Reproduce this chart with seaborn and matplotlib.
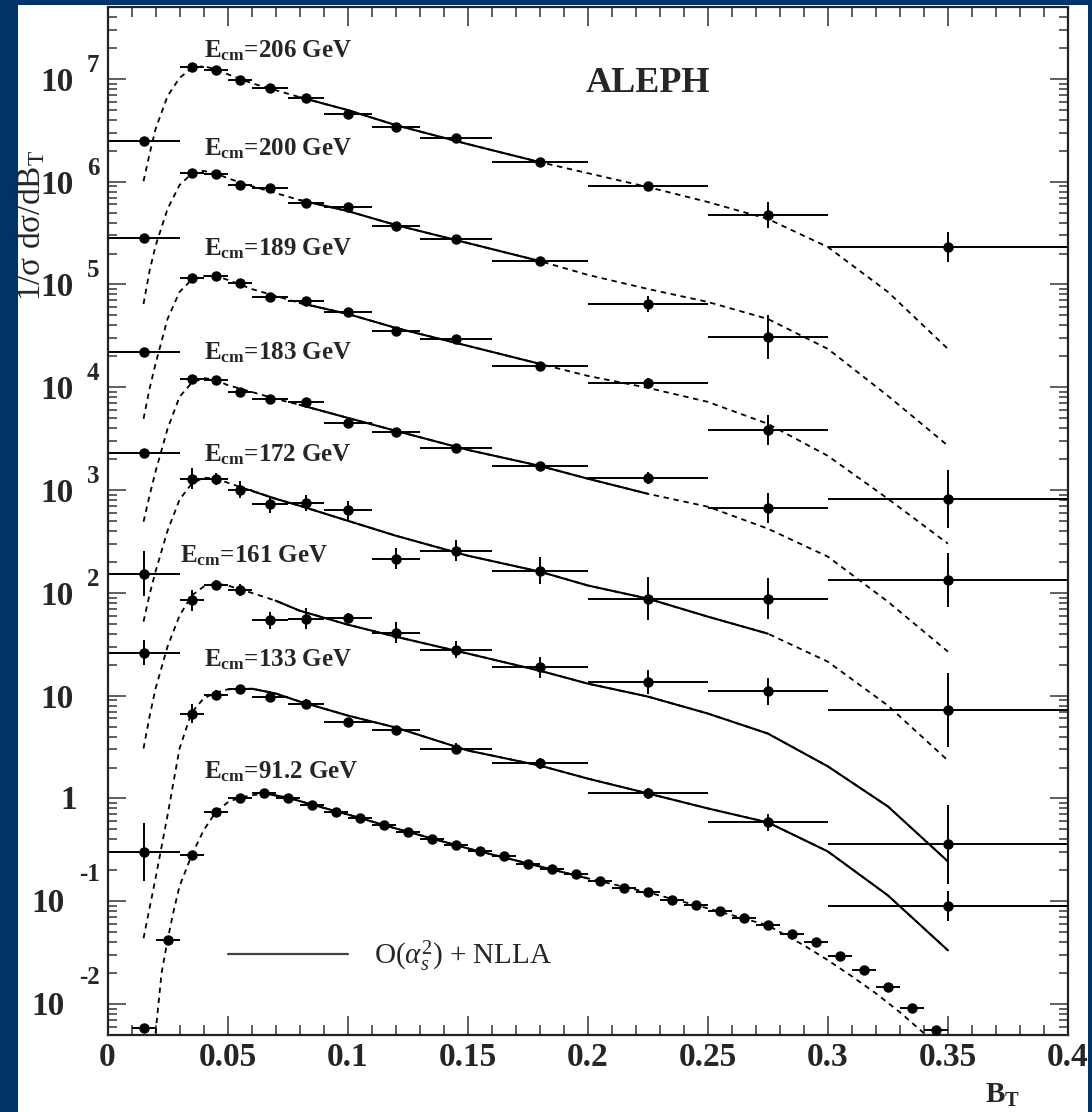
import numpy as np
import matplotlib
matplotlib.use('Agg')
import matplotlib.pyplot as plt
import seaborn as sns
from matplotlib.lines import Line2D
from matplotlib.patches import Rectangle
from matplotlib.ticker import MultipleLocator, LogLocator, NullFormatter

sns.set_theme(style='ticks')
plt.rcParams['font.family'] = ['Liberation Serif', 'DejaVu Serif']
plt.rcParams['mathtext.fontset'] = 'custom'
plt.rcParams['mathtext.rm'] = 'Liberation Serif'
plt.rcParams['mathtext.it'] = 'Liberation Serif:italic'
plt.rcParams['mathtext.bf'] = 'Liberation Serif:bold'

# ---- data ----
# LEP2 binning (bin centres and half widths)
LEP2_X = [0.015, 0.035, 0.045, 0.055, 0.0675, 0.0825, 0.1, 0.12, 0.145, 0.18, 0.225, 0.275, 0.35]
LEP2_XERR = [0.015, 0.005, 0.005, 0.005, 0.0075, 0.0075, 0.01, 0.01, 0.015, 0.02, 0.025, 0.025, 0.05]

D206 = [2.50e6, 1.31e7, 1.22e7, 9.71e6, 8.07e6, 6.45e6, 4.54e6, 3.42e6, 2.64e6, 1.54e6, 9.0e5, 4.73e5, 2.30e5]
D200 = [2.81e5, 1.21e6, 1.19e6, 9.33e5, 8.61e5, 6.19e5, 5.62e5, 3.73e5, 2.77e5, 1.68e5, 6.46e4, 3.07e4, np.nan]
D189 = [2.22e4, 1.15e5, 1.20e5, 1.03e5, 7.61e4, 6.96e4, 5.37e4, 3.56e4, 2.95e4, 1.61e4, 1.10e4, 3.80e3, 8.23e2]
D183 = [2.29e3, 1.21e4, 1.18e4, 8.96e3, 7.71e3, 7.16e3, 4.48e3, 3.66e3, 2.58e3, 1.72e3, 1.31e3, 6.68e2, 1.34e2]
D172 = [1.54e2, 1.29e3, 1.29e3, 1.01e3, 7.24e2, 7.48e2, 6.34e2, 2.15e2, 2.57e2, 1.64e2, 87.9, 87.9, 7.33]
D161 = [26.1, 84.6, 120, 106, 54.0, 56.1, 57.0, 41.0, 28.1, 18.8, 13.6, 11.0, 0.357]
D133 = [0.303, 6.70, 10.1, 11.5, 9.74, 8.38, 5.56, 4.61, 3.06, 2.19, 1.12, 0.585, 0.0892]

# vertical errors in decades (log10 half-length)
E206 = [0.03] * 11 + [0.126, 0.146]
E200 = [0.03] * 10 + [0.078, 0.214, 0.0]
E189 = [0.03] * 10 + [0.05, 0.146, 0.28]
E183 = [0.03] * 10 + [0.06, 0.146, 0.26]
E172 = [0.22, 0.1, 0.06, 0.08, 0.08, 0.08, 0.09, 0.1, 0.1, 0.13, 0.21, 0.2, 0.36]
E161 = [0.12, 0.1, 0.05, 0.06, 0.08, 0.1, 0.05, 0.1, 0.08, 0.1, 0.12, 0.13, 0.38]
E133 = [0.28, 0.09, 0.05, 0.04, 0.04, 0.04, 0.04, 0.04, 0.05, 0.05, 0.05, 0.08, 0.146]

# LEP1 (91.2 GeV), 0.01 wide bins
Z_X = [0.015, 0.025, 0.035, 0.045, 0.055, 0.065, 0.075, 0.085, 0.095, 0.105, 0.115, 0.125,
       0.135, 0.145, 0.155, 0.165, 0.175, 0.185, 0.195, 0.205, 0.215, 0.225, 0.235, 0.245,
       0.255, 0.265, 0.275, 0.285, 0.295, 0.305, 0.315, 0.325, 0.335, 0.345]
Z_Y = [0.00582, 0.0417, 0.279, 0.731, 1.02, 1.12, 1.02, 0.855, 0.731, 0.639, 0.547, 0.467,
       0.400, 0.349, 0.305, 0.273, 0.228, 0.204, 0.183, 0.156, 0.136, 0.122, 0.104, 0.0912,
       0.0797, 0.0682, 0.0583, 0.0477, 0.0399, 0.0292, 0.0213, 0.0146, 0.00910, 0.00556]

# O(as^2)+NLLA curves
TH_X = [0.015, 0.0175, 0.02, 0.025, 0.03, 0.035, 0.04, 0.045, 0.05, 0.06, 0.07, 0.08,
        0.1, 0.12, 0.15, 0.18, 0.2, 0.225, 0.25, 0.275, 0.3, 0.325, 0.35]
T206 = [1.01e6, 1.85e6, 3.24e6, 6.79e6, 1.02e7, 1.27e7, 1.33e7, 1.24e7, 1.11e7, 9.08e6, 7.76e6, 6.64e6,
        4.97e6, 3.55e6, 2.32e6, 1.55e6, 1.21e6, 8.87e5, 6.34e5, 4.34e5, 2.31e5, 8.45e4, 2.36e4]
T200 = [6.46e4, 1.35e5, 2.37e5, 5.42e5, 9.27e5, 1.19e6, 1.27e6, 1.21e6, 1.08e6, 9.06e5, 7.75e5, 6.62e5,
        5.18e5, 3.79e5, 2.53e5, 1.69e5, 1.24e5, 9.04e4, 6.76e4, 4.62e4, 2.36e4, 8.25e3, 2.70e3]
T189 = [4.93e3, 9.64e3, 1.69e4, 4.62e4, 8.45e4, 1.11e5, 1.21e5, 1.21e5, 1.11e5, 9.04e4, 7.73e4, 6.61e4,
        5.17e4, 3.78e4, 2.53e4, 1.69e4, 1.29e4, 9.87e3, 7.21e3, 4.41e3, 2.15e3, 8.23e2, 3.01e2]
T183 = [4.92e2, 8.81e2, 1.51e3, 3.94e3, 8.07e3, 1.10e4, 1.23e4, 1.18e4, 1.05e4, 9.02e3, 7.71e3, 6.75e3,
        5.04e3, 3.77e3, 2.46e3, 1.72e3, 1.29e3, 9.20e2, 6.89e2, 4.21e2, 2.25e2, 82.1, 26.8]
T172 = [52.5, 96.1, 1.61e2, 4.02e2, 8.05e2, 1.15e3, 1.32e3, 1.29e3, 1.18e3, 9.84e2, 8.23e2, 7.04e2,
        5.03e2, 3.60e2, 2.30e2, 1.61e2, 1.18e2, 87.9, 58.7, 40.1, 21.4, 8.01, 2.34]
T161 = [3.06, 6.26, 11.7, 30.0, 60.0, 93.9, 115, 123, 118, 100, 84.0, 67.1,
        49.1, 37.5, 25.7, 17.5, 13.1, 9.80, 6.70, 4.28, 2.05, 0.836, 0.244]
T133 = [0.0436, 0.0853, 0.167, 0.684, 3.06, 6.85, 9.37, 10.7, 11.5, 11.7, 10.5, 8.77,
        6.41, 4.90, 2.93, 2.09, 1.56, 1.12, 0.800, 0.585, 0.305, 0.114, 0.0333]

TZ_X = [0.02, 0.0225, 0.025, 0.0275, 0.03, 0.035, 0.04, 0.045, 0.05, 0.055, 0.065, 0.075, 0.085,
        0.1, 0.12, 0.15, 0.18, 0.2, 0.225, 0.25, 0.275, 0.29, 0.3, 0.31, 0.32, 0.33, 0.34]
TZ_Y = [0.00520, 0.0199, 0.0417, 0.0798, 0.140, 0.279, 0.489, 0.731, 0.914, 1.02, 1.12, 1.02, 0.874,
        0.699, 0.511, 0.327, 0.218, 0.167, 0.122, 0.0853, 0.0583, 0.0373, 0.0267, 0.0186, 0.0127,
        0.00832, 0.00520]

ENERGIES = ['206', '200', '189', '183', '172', '161', '133', '91.2']
DATA = [D206, D200, D189, D183, D172, D161, D133]
ERRS = [E206, E200, E189, E183, E172, E161, E133]
THEORY = [T206, T200, T189, T183, T172, T161, T133]
FIT_RANGE = [(0.08, 0.18), (0.08, 0.18), (0.08, 0.18), (0.08, 0.225), (0.06, 0.275),
             (0.07, 0.35), (0.06, 0.35), (0.065, 0.2)]
# label anchor (left x, baseline y) in image pixels
LABEL_POS = [(204, 57), (204, 155), (204, 255), (204, 359), (204, 461), (180, 562), (204, 666), (204, 778)]

XTICKS = [0, 0.05, 0.1, 0.15, 0.2, 0.25, 0.3, 0.35, 0.4]
XTICK_LABELS = ['0', '0.05', '0.1', '0.15', '0.2', '0.25', '0.3', '0.35', '0.4']

W, H = 1092, 1112
fig = plt.figure(figsize=(W / 100, H / 100), dpi=100, facecolor='#003366')
fig.add_artist(Rectangle((18 / W, 0), 1070 / W, 1107 / H, transform=fig.transFigure,
                         facecolor='white', edgecolor='none', zorder=-1))
ax = fig.add_axes([107.5 / W, 1 - 1035 / H, 960.5 / W, 1028 / H])
ax.set_facecolor('white')
ax.set_yscale('log')


def draw_curve(tx, ty, lo, hi):
    tx = np.asarray(tx)
    ty = np.asarray(ty)
    sns.lineplot(x=tx, y=ty, ax=ax, color='black', lw=1.3, ls=(0, (3, 2.6)),
                 estimator=None, sort=False, legend=False, zorder=2)
    m = (tx >= lo - 1e-9) & (tx <= hi + 1e-9)
    sns.lineplot(x=tx[m], y=ty[m], ax=ax, color='black', lw=1.5,
                 estimator=None, sort=False, legend=False, zorder=3)


def draw_data(x, xerr, y, edex):
    y = np.asarray(y, dtype=float)
    e = np.asarray(edex, dtype=float)
    lo = y * (1 - 10.0 ** (-e))
    hi = y * (10.0 ** e - 1)
    ax.errorbar(x, y, xerr=xerr, yerr=[lo, hi], fmt='o', color='black', ms=6.5,
                elinewidth=1.4, capsize=0, zorder=4)


for i in range(7):
    draw_curve(TH_X, THEORY[i], *FIT_RANGE[i])
    draw_data(LEP2_X, LEP2_XERR, DATA[i], ERRS[i])
draw_curve(TZ_X, TZ_Y, *FIT_RANGE[7])
draw_data(Z_X, [0.005] * len(Z_X), Z_Y, [0.02] * len(Z_X))

for e, (px, py) in zip(ENERGIES, LABEL_POS):
    fig.text(px / W, 1 - py / H, r'E$_{\mathbf{cm}}$=' + e + ' GeV', fontsize=18,
             fontweight='bold', ha='left', va='baseline')

# axes styling (ROOT look)
ax.set_xlim(0, 0.4)
ax.set_ylim(5e-3, 5e7)
ax.set_xticks(XTICKS, XTICK_LABELS, fontsize=24, fontweight='bold')
ax.xaxis.set_minor_locator(MultipleLocator(0.01))
ax.yaxis.set_major_locator(LogLocator(base=10, numticks=20))
ax.yaxis.set_minor_locator(LogLocator(base=10, subs=np.arange(2, 10), numticks=20))
ax.yaxis.set_major_formatter(NullFormatter())
ax.yaxis.set_minor_formatter(NullFormatter())
ax.tick_params(which='both', direction='in', top=True, right=True, color='#444444', width=1.2)
ax.tick_params(axis='x', which='major', length=14, pad=5)
ax.tick_params(axis='x', which='minor', length=7)
ax.tick_params(axis='y', which='major', length=13)
ax.tick_params(axis='y', which='minor', length=6.5)
for s in ax.spines.values():
    s.set_linewidth(1.6)
    s.set_color('#222222')
ax.set_xlabel('')
ax.set_ylabel('')

# ROOT style decade labels
for k in range(-2, 8):
    kw = dict(xy=(0, 10.0 ** k), xycoords=('axes fraction', 'data'), textcoords='offset pixels',
              va='baseline', fontweight='bold', annotation_clip=False)
    if k >= 1:
        ax.annotate('10', xytext=(-33.5, -12), ha='right', fontsize=24, **kw)
        if k >= 2:
            ax.annotate(str(k), xytext=(-20.5, 7), ha='left', fontsize=18, **kw)
    elif k == 0:
        ax.annotate('1', xytext=(-30.5, -11), ha='right', fontsize=24, **kw)
    else:
        ax.annotate('10', xytext=(-42.5, -11), ha='right', fontsize=24, **kw)
        ax.annotate(str(k), xytext=(-28.5, 20), ha='left', fontsize=18, **kw)

fig.text(31 / W, 1 - 225 / H, r'1/σ dσ/d$\mathrm{B}_{\mathrm{T}}$', rotation=90,
         ha='center', va='center', fontsize=24)
fig.text(985 / W, 1 - 1103 / H, r'$\mathbf{B}_{\mathbf{T}}$', fontsize=21, ha='left', va='baseline')
fig.text(648 / W, 1 - 92 / H, 'ALEPH', fontsize=26, fontweight='bold', ha='center', va='baseline')

handle = Line2D([], [], color='#444444', lw=1.6)
ax.legend([handle], [r'O($\alpha_s^2$) + NLLA'], loc='center left',
          bbox_to_anchor=(120.5 / 960.5, 79 / 1028), frameon=False, fontsize=21,
          handlelength=4.1, handletextpad=0.9, borderpad=0, borderaxespad=0)

fig.savefig('out.png', dpi=100, facecolor=fig.get_facecolor())
